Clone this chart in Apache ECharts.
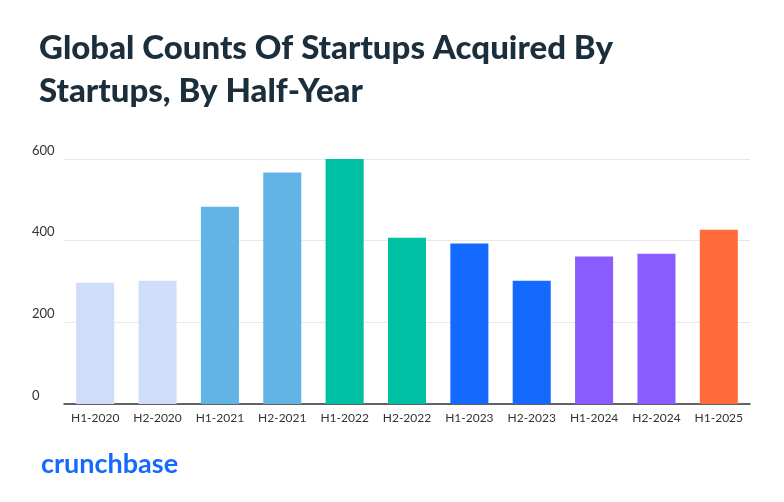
<!DOCTYPE html>
<html><head><meta charset="utf-8">
<script src="https://cdn.jsdelivr.net/npm/echarts@6/dist/echarts.min.js"></script>
<style>html,body{margin:0;padding:0;background:#fff}#c{width:784px;height:502px}</style>
</head><body><div id="c"></div>
<script>
const categories=["H1-2020","H2-2020","H1-2021","H2-2021","H1-2022","H2-2022","H1-2023","H2-2023","H1-2024","H2-2024","H1-2025"];
const values=[297,302,483,567,601,407,393,302,361,368,427];
const colors=["#CFDDFB","#CFDDFB","#62B4E6","#62B4E6","#00C0A3","#00C0A3","#146AFF","#146AFF","#8A5CFF","#8A5CFF","#FF6B3A"];
const chart=echarts.init(document.getElementById('c'));
chart.setOption({
  animation:false,
  title:[{text:"Global Counts Of Startups Acquired By\nStartups, By Half-Year",left:34,top:22,textStyle:{fontFamily:"Lato",fontWeight:900,fontSize:33,lineHeight:43,color:"#1B2E3C"}},
         {text:"crunchbase",left:36,top:446,textStyle:{fontFamily:"Lato",fontWeight:"bold",fontSize:27,color:"#146AFF"}}],
  grid:{left:64,right:34,top:159,bottom:98},
  xAxis:{type:"category",data:categories,axisTick:{show:false},axisLine:{lineStyle:{color:"#333",width:1.5}},
    axisLabel:{interval:0,color:"#333",fontFamily:"Lato",fontSize:12,margin:8}},
  yAxis:{type:"value",min:0,max:600,interval:200,
    axisLabel:{color:"#333",fontFamily:"Lato",fontSize:13,margin:0,align:"left",verticalAlign:"bottom",padding:[0,0,2,-32]},
    splitLine:{lineStyle:{color:"#e8e8e8"}}},
  series:[{type:"bar",barWidth:"61%",data:values.map((v,i)=>({value:v,itemStyle:{color:colors[i]}}))}]
});
</script></body></html>
